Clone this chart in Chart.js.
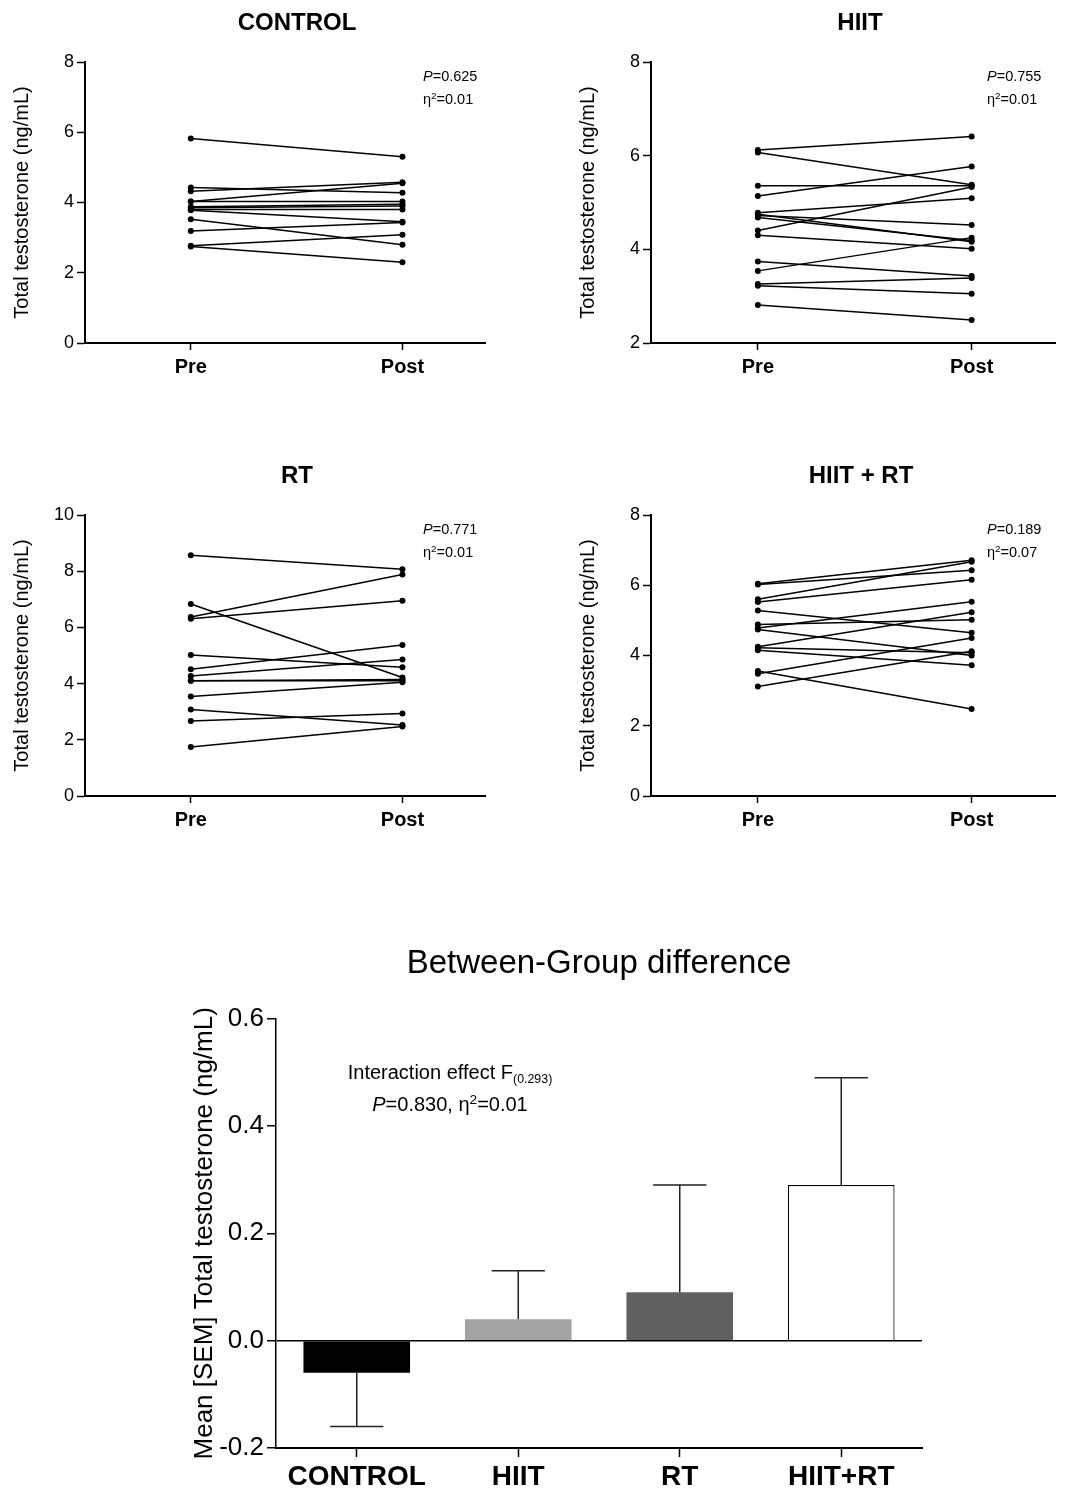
<!DOCTYPE html>
<html>
<head>
<meta charset="utf-8">
<title>Total testosterone</title>
<script src="https://cdn.jsdelivr.net/npm/chart.js@4.4.1/dist/chart.umd.min.js"></script>
<style>
  body { margin: 0; background: #fff; font-family: "Liberation Sans", Arial, sans-serif; color: #000; }
  #page { position: relative; width: 1067px; height: 1489px; overflow: hidden; }
  canvas { position: absolute; }
  .title { position: absolute; font-weight: bold; font-size: 24px; line-height: 28px; transform: translateX(-50%); white-space: nowrap; }
  .stat { position: absolute; font-size: 14.5px; line-height: 23px; white-space: nowrap; }
  .stat sup, .note sup { font-size: 0.68em; vertical-align: 0; position: relative; top: -0.5em; }
  .note { position: absolute; font-size: 20px; line-height: 29px; text-align: center; transform: translateX(-50%); white-space: nowrap; }
  .note sub { font-size: 0.62em; vertical-align: 0; position: relative; top: 0.3em; }
</style>
</head>
<body>
<div id="page">
  <canvas id="controlChart" width="533" height="400" style="left:0;top:0"></canvas>
  <canvas id="hiitChart" width="501" height="400" style="left:566px;top:0"></canvas>
  <canvas id="rtChart" width="533" height="400" style="left:0;top:453px"></canvas>
  <canvas id="hiitRtChart" width="501" height="400" style="left:566px;top:453px"></canvas>
  <canvas id="diffChart" width="800" height="559" style="left:150px;top:930px"></canvas>

  <div class="title" style="left:297px;top:8px">CONTROL</div>
  <div class="title" style="left:860px;top:8px">HIIT</div>
  <div class="title" style="left:297px;top:461px">RT</div>
  <div class="title" style="left:861px;top:461px">HIIT + RT</div>

  <div class="stat" style="left:423px;top:65px"><i>P</i>=0.625<br>η<sup>2</sup>=0.01</div>
  <div class="stat" style="left:987px;top:65px"><i>P</i>=0.755<br>η<sup>2</sup>=0.01</div>
  <div class="stat" style="left:423px;top:518px"><i>P</i>=0.771<br>η<sup>2</sup>=0.01</div>
  <div class="stat" style="left:987px;top:518px"><i>P</i>=0.189<br>η<sup>2</sup>=0.07</div>

  <div class="note" style="left:450px;top:1058px">Interaction effect F<sub>(0.293)</sub><br><i>P</i>=0.830, η<sup>2</sup>=0.01</div>
</div>

<script>
// Time points on the paired plots
const timeLabels = ['Pre', 'Post'];

// Individual values (ng/mL)
const controlPre  = [5.82, 4.43, 4.32, 4.03, 4.03, 3.88, 3.80, 3.78, 3.52, 3.19, 2.77, 2.75, 3.85];
const controlPost = [5.30, 4.28, 4.58, 4.55, 4.03, 3.95, 3.80, 3.45, 2.80, 3.43, 3.08, 2.30, 3.90];

const hiitPre  = [6.12, 6.07, 5.36, 5.14, 4.78, 4.72, 4.68, 4.40, 4.30, 3.74, 3.54, 3.26, 3.22, 2.81, 4.75];
const hiitPost = [6.41, 5.38, 5.36, 5.77, 5.09, 4.52, 4.19, 5.33, 4.01, 3.43, 4.25, 3.39, 3.05, 2.49, 4.16];

const rtPre  = [8.57, 6.83, 6.37, 6.31, 5.02, 4.51, 4.27, 4.10, 4.10, 3.54, 3.08, 2.67, 1.74];
const rtPost = [8.07, 4.22, 7.88, 6.95, 4.58, 5.37, 4.86, 4.10, 4.15, 4.05, 2.53, 2.94, 2.47];

const hiitRtPre  = [6.04, 6.02, 5.60, 5.52, 5.28, 4.88, 4.78, 4.74, 4.25, 4.15, 3.56, 3.48, 3.12, 4.22];
const hiitRtPost = [6.71, 6.43, 6.67, 6.16, 4.65, 5.02, 5.53, 4.00, 5.23, 3.72, 2.48, 4.50, 4.12, 4.08];

// Between-group change (post - pre)
const groups = ['CONTROL', 'HIIT', 'RT', 'HIIT+RT'];
const meanDiff = [-0.06, 0.04, 0.09, 0.29];
const semDiff = [0.10, 0.09, 0.20, 0.20];
const barColors = ['#000000', '#a3a3a3', '#606060', '#ffffff'];

const FONT = "'Liberation Sans', Arial, sans-serif";
Chart.defaults.font.family = FONT;
Chart.defaults.color = '#000';

// One pre/post panel, a line per subject
function pairedChart(id, pre, post, yMin, yMax, padRight) {
    const datasets = pre.map((v, i) => ({
        data: [{ x: 0, y: v }, { x: 1, y: post[i] }],
        borderColor: '#000',
        backgroundColor: '#000',
        borderWidth: 1.5,
        pointRadius: 3,
        pointBorderWidth: 0
    }));

    return new Chart(document.getElementById(id), {
        type: 'line',
        data: { datasets },
        options: {
            responsive: false,
            animation: false,
            layout: { padding: { top: 62, right: padRight, left: 0, bottom: 0 } },
            plugins: { legend: { display: false }, tooltip: { enabled: false } },
            scales: {
                x: {
                    type: 'linear',
                    min: -0.5,
                    max: 1.39,
                    afterBuildTicks: scale => { scale.ticks = timeLabels.map((t, i) => ({ value: i })); },
                    afterFit: scale => { scale.height = 57; },
                    ticks: {
                        callback: v => timeLabels[v],
                        font: { size: 20, weight: 'bold' },
                        color: '#000',
                        padding: 5,
                        maxRotation: 0
                    },
                    grid: { drawOnChartArea: false, color: '#000', tickLength: 7, tickWidth: 1.5 },
                    border: { color: '#000', width: 2 }
                },
                y: {
                    min: yMin,
                    max: yMax,
                    afterFit: scale => { scale.width = 85; },
                    ticks: { stepSize: 2, font: { size: 18 }, color: '#000', padding: 3 },
                    grid: { drawOnChartArea: false, color: '#000', tickLength: 8, tickWidth: 1.5 },
                    border: { color: '#000', width: 2 },
                    title: {
                        display: true,
                        text: 'Total testosterone (ng/mL)',
                        font: { size: 20 },
                        color: '#000',
                        padding: { top: 10, bottom: 0 }
                    }
                }
            }
        }
    });
}

// SEM whiskers, drawn away from zero only
const errorBars = {
    id: 'errorBars',
    afterDatasetsDraw(chart) {
        const ctx = chart.ctx;
        const yScale = chart.scales.y;
        const meta = chart.getDatasetMeta(0);
        ctx.save();
        ctx.strokeStyle = '#222';
        ctx.lineWidth = 1.5;
        meta.data.forEach((bar, i) => {
            const m = meanDiff[i];
            const end = m + Math.sign(m) * semDiff[i];
            const y0 = yScale.getPixelForValue(m);
            const y1 = yScale.getPixelForValue(end);
            const half = bar.width / 4;
            ctx.beginPath();
            ctx.moveTo(bar.x, y0);
            ctx.lineTo(bar.x, y1);
            ctx.moveTo(bar.x - half, y1);
            ctx.lineTo(bar.x + half, y1);
            ctx.stroke();
        });
        ctx.restore();
    }
};

function initCharts() {
    pairedChart('controlChart', controlPre, controlPost, 0, 8, 48);
    pairedChart('hiitChart', hiitPre, hiitPost, 2, 8, 12);
    pairedChart('rtChart', rtPre, rtPost, 0, 10, 48);
    pairedChart('hiitRtChart', hiitRtPre, hiitRtPost, 0, 8, 12);

    new Chart(document.getElementById('diffChart'), {
        type: 'bar',
        data: {
            labels: groups,
            datasets: [{
                data: meanDiff,
                backgroundColor: barColors,
                borderColor: '#000',
                borderWidth: [0, 0, 0, 1.2],
                categoryPercentage: 1,
                barPercentage: 0.66
            }]
        },
        options: {
            responsive: false,
            animation: false,
            layout: { padding: { top: 0, right: 28, left: 0, bottom: 0 } },
            plugins: {
                legend: { display: false },
                tooltip: { enabled: false },
                title: {
                    display: true,
                    fullSize: false,
                    text: 'Between-Group difference',
                    font: { size: 33, weight: 'normal' },
                    color: '#000',
                    padding: { top: 14, bottom: 35 }
                }
            },
            scales: {
                x: {
                    afterFit: scale => { scale.height = 41; },
                    ticks: { font: { size: 28, weight: 'bold' }, color: '#000', padding: 3, maxRotation: 0 },
                    grid: { offset: false, drawOnChartArea: false, color: '#000', tickLength: 9, tickWidth: 1.5 },
                    border: { color: '#000', width: 2 }
                },
                y: {
                    min: -0.2,
                    max: 0.6,
                    afterFit: scale => { scale.width = 126; },
                    ticks: {
                        stepSize: 0.2,
                        font: { size: 26 },
                        color: '#000',
                        padding: 3,
                        callback: v => v.toFixed(1)
                    },
                    grid: {
                        color: c => (Math.abs(c.tick.value) < 1e-9 ? '#000' : 'rgba(0,0,0,0)'),
                        lineWidth: 1.5,
                        tickColor: '#000',
                        tickLength: 9,
                        tickWidth: 1.5
                    },
                    border: { color: '#000', width: 1.5 },
                    title: {
                        display: true,
                        text: 'Mean [SEM] Total testosterone (ng/mL)',
                        font: { size: 26 },
                        color: '#000',
                        padding: { top: 39, bottom: 0 }
                    }
                }
            }
        },
        plugins: [errorBars]
    });
}

initCharts();
</script>
</body>
</html>
